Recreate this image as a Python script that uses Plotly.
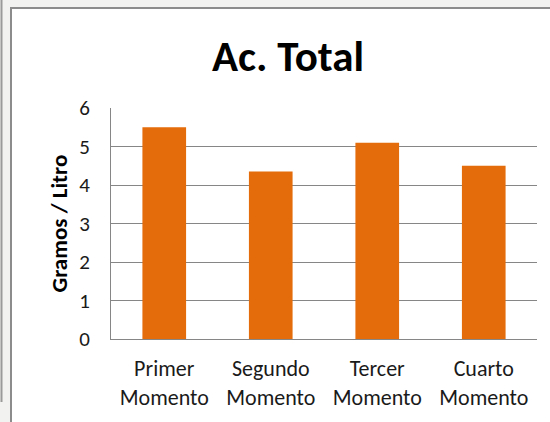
import plotly.graph_objects as go

categories = ["Primer<br>Momento", "Segundo<br>Momento", "Tercer<br>Momento", "Cuarto<br>Momento"]
values = [5.5, 4.35, 5.1, 4.5]
y_ticks = [0, 1, 2, 3, 4, 5, 6]
title_text = "Ac. Total"
y_title = "Gramos / Litro"

W, H = 550, 422
L, R, T, B = 111, 13, 108, 83
pw, ph = W - L - R, H - T - B

def px_x(p):
    return (p - L) / pw

def px_y(p):
    return (H - B - p) / ph

FONT = "Calibri, Carlito, Lato, sans-serif"
BAR = "#E46C0A"
GRID = "#868686"

fig = go.Figure(go.Bar(x=categories, y=values, marker=dict(color=BAR, line=dict(width=0))))

fig.update_layout(
    width=W, height=H,
    margin=dict(l=L, r=R, t=T, b=B, pad=0),
    paper_bgcolor="#F2F2F0",
    plot_bgcolor="rgba(0,0,0,0)",
    bargap=0.59,
    showlegend=False,
    font=dict(family=FONT, color="#1a1a1a"),
    title=dict(text="<b>" + title_text + "</b>", x=288 / W, xanchor="center",
               y=1 - 56 / H, yanchor="middle", yref="container",
               font=dict(size=43, family=FONT, color="#000000")),
    shapes=[
        dict(type="rect", xref="paper", yref="paper", layer="below",
             x0=px_x(11), x1=px_x(570), y0=px_y(440), y1=px_y(8),
             fillcolor="white", line=dict(color="#8C8C8C", width=2)),
        dict(type="line", xref="paper", yref="paper", layer="below",
             x0=px_x(1.5), x1=px_x(1.5), y0=px_y(0), y1=px_y(402),
             line=dict(color="#9A9A9A", width=2)),
    ],
    annotations=[
        dict(text="<b>" + y_title + "</b>", xref="paper", yref="paper",
             x=px_x(58), y=0.5, textangle=-90, showarrow=False,
             xanchor="center", yanchor="middle",
             font=dict(size=23, family=FONT, color="#000000")),
    ],
)

fig.update_xaxes(
    showgrid=False, showline=True, linecolor=GRID, linewidth=1,
    ticks="", tickfont=dict(size=22, family=FONT, color="#1a1a1a"),
    ticklabelstandoff=10, fixedrange=True,
)
fig.update_yaxes(
    range=[0, 6], tickvals=y_ticks, showgrid=True, gridcolor=GRID, gridwidth=1,
    showline=True, linecolor=GRID, linewidth=1, zeroline=False,
    ticks="", tickfont=dict(size=21, family=FONT, color="#1a1a1a"),
    ticklabelstandoff=16, fixedrange=True,
)

fig.write_html("out.html")
